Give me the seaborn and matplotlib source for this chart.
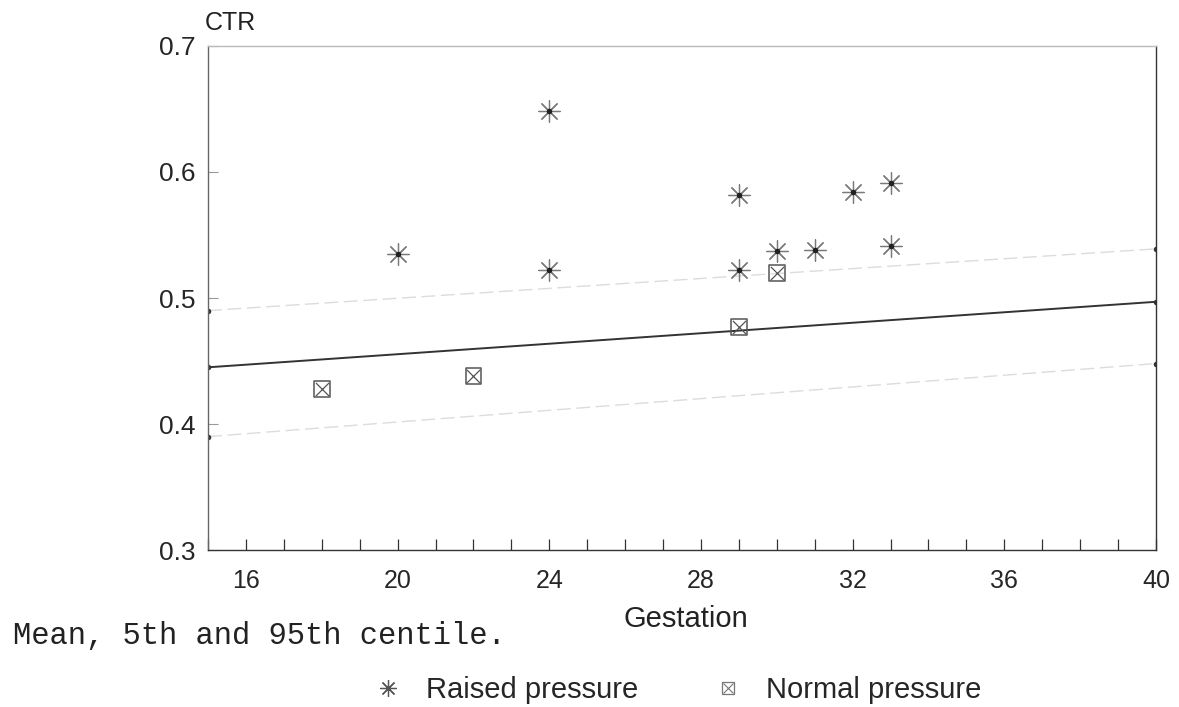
import matplotlib
matplotlib.use("Agg")
import matplotlib.pyplot as plt
import seaborn as sns
import pandas as pd
from matplotlib.lines import Line2D
from matplotlib.legend_handler import HandlerTuple
from matplotlib.ticker import MultipleLocator

raised_gest = [20, 24, 24, 29, 29, 30, 31, 32, 33, 33]
raised_ctr = [0.535, 0.648, 0.522, 0.582, 0.522, 0.537, 0.538, 0.584, 0.591, 0.541]
normal_gest = [18, 22, 29, 30]
normal_ctr = [0.428, 0.438, 0.477, 0.520]

line_gest = [15, 40]
mean_ctr = [0.445, 0.497]
p95_ctr = [0.490, 0.539]
p5_ctr = [0.390, 0.448]

x_ticks = [16, 20, 24, 28, 32, 36, 40]
y_ticks = [0.3, 0.4, 0.5, 0.6, 0.7]

sns.set_style("white")
plt.rcParams['font.family'] = ['Liberation Sans', 'DejaVu Sans']

fig = plt.figure(figsize=(11.79, 7.07), dpi=100)
ax = fig.add_axes([0.1764, 0.222, 0.8041, 0.713])

lines_df = pd.DataFrame({"g": line_gest, "mean": mean_ctr, "p95": p95_ctr, "p5": p5_ctr})
sns.lineplot(data=lines_df, x="g", y="mean", ax=ax, color="#333333", lw=1.4,
             marker="o", markersize=4, markeredgewidth=0)
for col in ["p95", "p5"]:
    sns.lineplot(data=lines_df, x="g", y=col, ax=ax, color="#dcdcdc", lw=1.0,
                 linestyle=(0, (10, 4)), marker="o", markersize=4, markeredgewidth=0,
                 markerfacecolor="#333333")

raised_df = pd.DataFrame({"g": raised_gest, "c": raised_ctr})
normal_df = pd.DataFrame({"g": normal_gest, "c": normal_ctr})
star = (8, 2, 0)
sns.scatterplot(data=raised_df, x="g", y="c", ax=ax, marker=star, s=240,
                color="#7a7a7a", linewidth=0.9, zorder=5)
sns.scatterplot(data=raised_df, x="g", y="c", ax=ax, marker="o", s=16,
                color="#222222", linewidth=0, zorder=6)
sns.scatterplot(data=normal_df, x="g", y="c", ax=ax, marker="s", s=130,
                facecolor="none", edgecolor="#555555", linewidth=1.1, zorder=5)
sns.scatterplot(data=normal_df, x="g", y="c", ax=ax, marker="x", s=90,
                color="#555555", linewidth=0.9, zorder=6)

ax.set_xlim(15, 40)
ax.set_ylim(0.3, 0.7)
ax.set_xticks(x_ticks)
ax.set_xticklabels([str(t) for t in x_ticks])
ax.set_yticks(y_ticks)
ax.set_yticklabels([f"{t:.1f}" for t in y_ticks])
ax.xaxis.set_minor_locator(MultipleLocator(1))
ax.tick_params(axis="x", which="major", direction="in", length=8, width=0.9,
               color="#333333", bottom=True, pad=14, labelsize=18)
ax.tick_params(axis="x", which="minor", direction="in", length=8, width=0.9,
               color="#333333", bottom=True)
ax.tick_params(axis="y", which="major", direction="in", length=7, width=0.8,
               color="#999999", left=True, pad=9, labelsize=19)
for sp in ax.spines.values():
    sp.set_visible(True)
    sp.set_color("#333333")
    sp.set_linewidth(1.0)
ax.spines["top"].set_color("#bbbbbb")
ax.spines["left"].set_color("#666666")
ax.set_xlabel("")
ax.set_ylabel("")

fig.text(0.174, 0.967, "CTR", fontsize=18, ha="left", va="center", color="#222222")
fig.text(0.582, 0.124, "Gestation", fontsize=21, ha="center", va="center",
         color="#222222")
fig.text(0.011, 0.101, "Mean, 5th and 95th centile.", fontsize=22, ha="left",
         va="center", color="#222222", family=['Liberation Mono', 'DejaVu Sans Mono'])

h_raised = Line2D([], [], linestyle="none", marker=star, markersize=12,
                  color="#555555", markeredgewidth=0.9)
h_sq = Line2D([], [], linestyle="none", marker="s", markersize=9,
              markerfacecolor="none", markeredgecolor="#777777", markeredgewidth=0.9)
h_x = Line2D([], [], linestyle="none", marker="x", markersize=7,
             color="#777777", markeredgewidth=0.8)
leg = fig.legend([h_raised, (h_sq, h_x)], ["Raised pressure", "Normal pressure"],
                 handler_map={tuple: HandlerTuple(ndivide=1, pad=0)},
                 loc="center", bbox_to_anchor=(0.572, 0.024), ncol=2, frameon=False,
                 columnspacing=2.4, handletextpad=0.6, handlelength=1.4,
                 prop={'family': ['Liberation Sans', 'DejaVu Sans'], 'size': 21})

fig.savefig("out.png", dpi=100, facecolor="white")
